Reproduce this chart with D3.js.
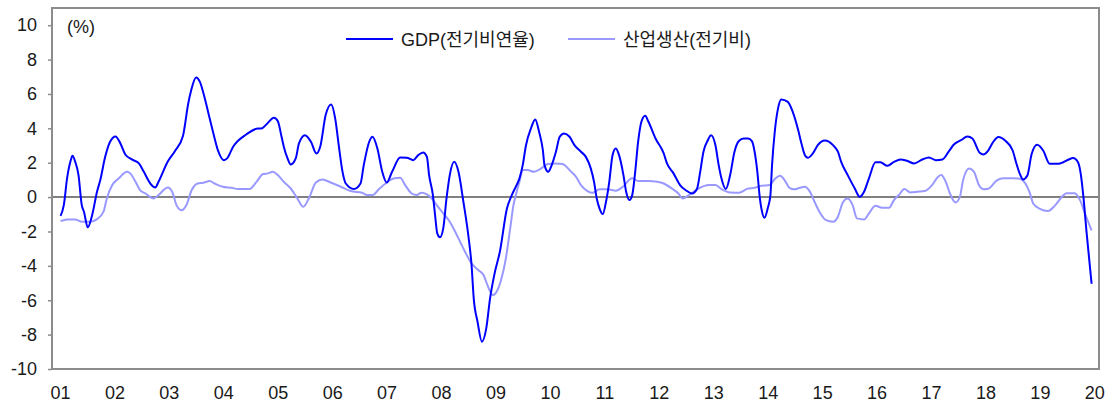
<!DOCTYPE html>
<html>
<head>
<meta charset="utf-8">
<script src="https://cdn.jsdelivr.net/npm/d3@7"></script>
<style>
  body { margin: 0; background: #fff; }
  text { font-family: "Liberation Sans", Arial, "Noto Sans CJK KR", sans-serif; fill: #1a1a1a; }
</style>
</head>
<body>
<div id="chart"></div>
<script>
// x labels (year, 2 digits)
var yearLabels = ["01","02","03","04","05","06","07","08","09","10","11","12","13","14","15","16","17","18","19","20"];
var yTicks = [-10, -8, -6, -4, -2, 0, 2, 4, 6, 8, 10];

// GDP (전기비연율), decimal year / %
var gdpYears = [2001.01,2001.07,2001.13,2001.19,2001.23,2001.28,2001.34,2001.40,2001.44,2001.51,2001.59,2001.68,2001.74,2001.83,2001.92,
  2002.02,2002.11,2002.20,2002.32,2002.45,2002.54,2002.66,2002.75,2002.81,2002.98,
  2003.11,2003.26,2003.29,2003.35,2003.41,2003.50,2003.57,2003.66,2003.75,2003.81,2003.90,
  2004.01,2004.07,2004.18,2004.42,2004.64,2004.70,2004.79,2004.93,
  2005.00,2005.07,2005.11,2005.18,2005.24,2005.33,2005.39,2005.50,2005.61,2005.71,2005.78,2005.88,2005.98,
  2006.06,2006.12,2006.19,2006.25,2006.40,2006.52,2006.58,2006.68,2006.74,2006.83,2006.92,
  2007.00,2007.10,2007.25,2007.37,2007.49,2007.58,2007.67,2007.74,2007.78,2007.85,2007.89,2007.93,2007.98,
  2008.04,2008.10,2008.16,2008.24,2008.32,2008.41,2008.50,2008.56,2008.60,2008.67,2008.75,2008.83,2008.90,2008.99,
  2009.08,2009.21,2009.30,2009.38,2009.44,2009.50,2009.56,2009.65,2009.73,2009.80,2009.87,2009.90,2009.97,
  2010.02,2010.11,2010.18,2010.26,2010.36,2010.45,2010.57,2010.66,2010.75,2010.81,2010.86,2010.91,2010.97,
  2011.03,2011.09,2011.15,2011.21,2011.27,2011.35,2011.40,2011.46,2011.51,2011.56,2011.62,2011.68,2011.75,2011.81,2011.94,
  2012.09,2012.15,2012.27,2012.39,2012.49,2012.61,2012.70,2012.76,2012.82,2012.90,2012.96,
  2013.04,2013.10,2013.15,2013.23,2013.31,2013.39,2013.47,2013.56,2013.64,2013.71,2013.76,2013.81,2013.85,2013.89,2013.94,
  2014.00,2014.05,2014.08,2014.13,2014.19,2014.25,2014.37,2014.46,2014.56,2014.62,2014.69,2014.74,2014.83,2014.92,
  2015.05,2015.20,2015.29,2015.35,2015.47,2015.60,2015.69,2015.77,2015.86,2015.98,
  2016.07,2016.20,2016.32,2016.44,2016.56,2016.69,2016.84,2016.96,
  2017.09,2017.21,2017.33,2017.42,2017.55,2017.67,2017.76,2017.90,2017.96,
  2018.05,2018.14,2018.24,2018.36,2018.50,2018.57,2018.63,2018.69,2018.77,2018.85,2018.95,
  2019.06,2019.18,2019.34,2019.43,2019.52,2019.61,2019.70,2019.75,2019.80,2019.86,2019.95];
var gdpValues = [-1.09,-0.47,1.09,2.05,2.4,2.05,1.28,-0.47,-0.85,-1.76,-1.05,0.31,0.99,2.34,3.22,
  3.53,3.12,2.48,2.19,1.96,1.47,0.79,0.56,0.89,2.07,
  2.67,3.57,4.09,5.35,6.22,6.96,6.7,5.74,4.57,3.8,2.73,
  2.15,2.25,2.93,3.64,3.99,3.99,4.22,4.61,
  4.42,3.51,2.95,2.25,1.9,2.25,3.12,3.6,3.22,2.54,2.93,4.77,5.39,
  4.48,3.02,1.47,0.79,0.47,0.79,1.86,3.22,3.51,2.83,1.47,
  0.85,1.47,2.3,2.29,2.15,2.44,2.6,2.34,1.28,0.12,-1.05,-2.11,-2.34,
  -1.82,-0.08,1.28,2.05,1.47,-0.27,-2.21,-3.95,-5.89,-7.25,-8.41,-7.64,-5.89,-4.34,
  -3.18,-0.66,0.12,0.65,1.09,1.86,3.02,3.99,4.52,3.8,2.73,1.86,1.47,
  1.76,2.64,3.51,3.7,3.51,3.02,2.64,2.34,1.67,0.89,-0.08,-0.66,-0.99,
  -0.27,0.89,2.44,2.83,2.44,1.28,0.31,-0.17,0.1,1.28,3.22,4.38,4.73,4.38,3.41,
  2.54,1.96,1.38,0.7,0.41,0.21,0.47,1.47,2.64,3.31,3.6,
  3.02,1.86,1.09,0.47,1.28,2.64,3.26,3.41,3.41,3.26,2.64,1.47,0.12,-0.76,-1.2,
  -0.66,0.12,1.86,3.8,5.16,5.68,5.54,4.96,3.9,3.12,2.4,2.29,2.54,3.02,
  3.29,3.02,2.64,2.05,1.28,0.5,0.02,0.31,1.09,2.02,
  2.02,1.82,2.05,2.19,2.11,1.96,2.19,2.31,
  2.15,2.19,2.67,3.06,3.31,3.53,3.41,2.56,2.48,
  2.71,3.2,3.49,3.29,2.71,1.94,1.36,1.03,1.26,2.52,3.04,
  2.71,1.94,1.94,2.03,2.17,2.27,2.03,1.36,0,-2.13,-5.04];

// 산업생산 (전기비), decimal year / %
var ipYears = [2001.01,2001.13,2001.28,2001.40,2001.56,2001.68,2001.80,2001.86,2001.96,
  2002.08,2002.23,2002.29,2002.38,2002.47,2002.57,2002.72,2002.81,2002.98,
  2003.06,2003.14,2003.23,2003.32,2003.42,2003.53,2003.63,2003.75,2003.84,2003.99,
  2004.15,2004.27,2004.48,2004.61,2004.73,2004.82,2004.91,
  2005.00,2005.11,2005.24,2005.36,2005.47,2005.57,2005.70,2005.82,2005.97,
  2006.16,2006.34,2006.55,2006.64,2006.74,2006.86,2006.98,
  2007.14,2007.25,2007.34,2007.46,2007.55,2007.64,2007.74,2007.83,2007.92,
  2008.04,2008.16,2008.26,2008.35,2008.44,2008.56,2008.68,2008.78,2008.84,2008.95,
  2009.02,2009.11,2009.19,2009.27,2009.33,2009.38,2009.44,2009.50,2009.59,2009.71,2009.84,2009.96,
  2010.11,2010.23,2010.39,2010.48,2010.57,2010.69,2010.78,2010.91,
  2011.06,2011.21,2011.34,2011.51,2011.63,2011.81,2011.97,
  2012.09,2012.24,2012.36,2012.44,2012.55,2012.73,2012.92,
  2013.04,2013.16,2013.31,2013.47,2013.64,2013.76,2013.88,
  2014.04,2014.13,2014.23,2014.31,2014.40,2014.49,2014.59,2014.68,2014.77,2014.86,2014.95,
  2015.07,2015.20,2015.29,2015.38,2015.47,2015.56,2015.64,2015.77,2015.86,2015.98,
  2016.10,2016.23,2016.32,2016.41,2016.51,2016.62,2016.75,2016.90,
  2017.02,2017.13,2017.19,2017.27,2017.36,2017.45,2017.53,2017.59,2017.70,2017.79,2017.88,2017.97,
  2018.05,2018.21,2018.33,2018.51,2018.63,2018.73,2018.81,2018.88,
  2019.00,2019.15,2019.28,2019.43,2019.49,2019.64,2019.74,2019.83,2019.95];
var ipValues = [-1.4,-1.3,-1.3,-1.43,-1.43,-1.28,-0.85,-0.08,0.7,
  1.09,1.47,1.38,0.93,0.41,0.21,-0.08,0.12,0.56,
  0.31,-0.47,-0.76,-0.47,0.41,0.79,0.83,0.93,0.79,0.6,
  0.54,0.47,0.47,0.89,1.34,1.38,1.47,
  1.28,0.89,0.5,-0.08,-0.56,-0.08,0.85,1.03,0.85,
  0.6,0.35,0.25,0.12,0.12,0.47,0.79,
  1.09,1.12,0.7,0.21,0.12,0.25,0.16,-0.08,-0.47,
  -0.95,-1.43,-2.02,-2.6,-3.18,-3.86,-4.24,-4.53,-5.02,-5.7,
  -5.5,-4.73,-3.57,-1.82,-0.47,0.2,0.89,1.57,1.57,1.47,1.67,1.92,
  1.96,1.92,1.47,1.18,0.7,0.35,0.25,0.45,
  0.45,0.37,0.6,1.09,0.93,0.93,0.89,
  0.79,0.5,0.21,-0.08,0.12,0.5,0.7,
  0.7,0.45,0.27,0.25,0.5,0.54,0.66,
  0.7,1.05,1.24,0.99,0.54,0.45,0.54,0.6,0.35,-0.27,-0.85,
  -1.34,-1.43,-1.14,-0.31,-0.08,-0.47,-1.24,-1.3,-0.95,-0.5,
  -0.62,-0.62,-0.17,0.12,0.47,0.27,0.31,0.37,
  0.7,1.18,1.28,0.89,0.12,-0.31,0.02,0.99,1.67,1.47,0.7,0.45,
  0.48,0.97,1.1,1.1,1.07,0.81,0.29,-0.39,
  -0.68,-0.81,-0.48,0.1,0.23,0.23,-0.19,-0.97,-1.94];

var WIDTH = 1115, HEIGHT = 403;
var margin = {top: 8, right: 16, bottom: 34, left: 52};
var w = WIDTH - margin.left - margin.right,
    h = HEIGHT - margin.top - margin.bottom;

var svg = d3.select("#chart").append("svg")
    .attr("width", WIDTH)
    .attr("height", HEIGHT);

var g = svg.append("g")
    .attr("transform", "translate(" + margin.left + "," + margin.top + ")");

var x = d3.scaleLinear().domain([2000.853, 2020.086]).range([0, w]);
var y = d3.scaleLinear().domain([-10, 11]).range([h, 0]);

// y axis (ticks outside, left)
var yAxis = g.append("g")
    .call(d3.axisLeft(y).tickValues(yTicks).tickSize(4).tickPadding(11).tickFormat(d3.format("d")));
yAxis.select(".domain").remove();
yAxis.selectAll("line").attr("stroke", "#8c8c8c").attr("stroke-width", 1.5);
yAxis.selectAll("text").style("font-size", "18px").attr("fill", "#1a1a1a")
    .text(function(d) { return d < 0 ? "-" + Math.abs(d) : d; });

// x axis labels
var xAxis = g.append("g")
    .attr("transform", "translate(0," + h + ")")
    .call(d3.axisBottom(x).tickValues(d3.range(2001, 2021)).tickSize(0).tickPadding(17)
      .tickFormat(function(d, i) { return yearLabels[i]; }));
xAxis.select(".domain").remove();
xAxis.selectAll("text").style("font-size", "18px").attr("fill", "#1a1a1a");

// zero line
g.append("line")
    .attr("x1", 0).attr("x2", w)
    .attr("y1", y(0)).attr("y2", y(0))
    .attr("stroke", "#808080").attr("stroke-width", 2);

var line = d3.line()
    .x(function(d) { return x(d[0]); })
    .y(function(d) { return y(d[1]); })
    .curve(d3.curveMonotoneX);

g.append("path")
    .datum(d3.zip(ipYears, ipValues))
    .attr("fill", "none")
    .attr("stroke", "#9999ff")
    .attr("stroke-width", 2)
    .attr("d", line);

g.append("path")
    .datum(d3.zip(gdpYears, gdpValues))
    .attr("fill", "none")
    .attr("stroke", "#0000ff")
    .attr("stroke-width", 2)
    .attr("stroke-linejoin", "round")
    .attr("d", line);

// frame
g.append("rect")
    .attr("x", 0).attr("y", 0).attr("width", w).attr("height", h)
    .attr("fill", "none").attr("stroke", "#8c8c8c").attr("stroke-width", 2);

// unit
g.append("text")
    .attr("x", 15).attr("y", 25)
    .style("font-size", "18px")
    .text("(%)");

// legend
var legend = [
  {label: "GDP(전기비연율)", color: "#0000ff", x0: 346},
  {label: "산업생산(전기비)", color: "#9999ff", x0: 568}
];
var lg = svg.append("g");
legend.forEach(function(d) {
  lg.append("line")
    .attr("x1", d.x0).attr("x2", d.x0 + 47)
    .attr("y1", 39).attr("y2", 39)
    .attr("stroke", d.color).attr("stroke-width", 2);
  lg.append("text")
    .attr("x", d.x0 + 55).attr("y", 45.5)
    .style("font-size", "18px")
    .text(d.label);
});
</script>
</body>
</html>
